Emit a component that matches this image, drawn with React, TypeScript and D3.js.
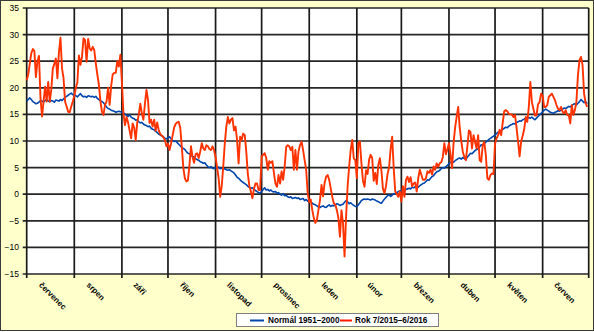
import * as d3 from "d3";

// months (Czech) shown on the x axis
const monthLabels = [
  "červenec", "srpen", "září", "říjen", "listopad", "prosinec",
  "leden", "únor", "březen", "duben", "květen", "červen",
];

const yTicks = [-15, -10, -5, 0, 5, 10, 15, 20, 25, 30, 35];

const seriesNames = ["Normál 1951–2000", "Rok 7/2015–6/2016"];

// daily mean temperature, long-term normal (1 Jul .. 30 Jun)
const normal = [
  // Jul
  17.5, 17.8, 18.1, 17.8, 17.4, 17.2, 17.0, 17.1, 17.3, 17.6, 17.5, 17.3, 17.6, 17.8, 17.5, 17.4,
  17.6, 17.5, 17.3, 17.7, 17.6, 17.5, 17.8, 17.6, 17.9, 18.2, 18.4, 18.6, 18.8, 19.0, 18.7,
  // Aug
  18.7, 18.5, 18.3, 18.6, 18.9, 18.5, 18.3, 18.4, 18.2, 18.5, 18.4, 18.3, 18.4, 18.2, 18.4, 18.0,
  17.8, 17.6, 17.4, 17.2, 16.8, 16.4, 16.1, 16.0, 15.8, 15.7, 15.6, 15.4, 15.5, 15.6, 15.5,
  // Sep
  15.4, 15.3, 15.1, 14.8, 14.6, 14.9, 14.5, 14.3, 14.2, 13.9, 14.0, 13.6, 13.4, 13.5, 13.2,
  13.0, 12.9, 12.7, 12.8, 12.4, 12.2, 12.1, 11.8, 11.6, 11.3, 11.1, 11.0, 10.8, 10.5, 10.4,
  // Oct
  10.6, 10.8, 10.4, 10.1, 9.9, 10.0, 9.7, 9.4, 9.1, 8.8, 8.6, 8.4, 8.0, 7.7, 7.6, 7.3,
  7.1, 7.0, 6.7, 6.5, 6.4, 6.1, 6.0, 5.8, 5.9, 5.5, 5.2, 5.0, 5.2, 4.9, 4.8,
  // Nov
  5.0, 4.9, 5.1, 4.8, 4.9, 4.7, 4.8, 4.6, 4.5, 4.6, 4.4, 4.2, 4.0, 3.6, 3.2,
  3.0, 2.7, 2.4, 2.2, 2.0, 1.8, 1.5, 1.3, 1.1, 1.2, 0.9, 0.7, 0.5, 0.3, 0.2,
  // Dec
  0.5, 0.9, 1.2, 0.8, 0.9, 0.6, 0.8, 0.5, 0.4, 0.5, 0.2, 0.3, 0.0, -0.2, 0.1, -0.3,
  -0.2, -0.5, -0.6, -0.5, -0.8, -0.7, -0.6, -0.8, -0.7, -1.0, -0.9, -0.8, -1.2, -1.0, -1.3,
  // Jan
  -1.5, -1.4, -1.7, -1.9, -2.0, -2.2, -2.4, -2.5, -2.3, -2.2, -2.4, -2.5, -2.2, -2.0, -2.3, -2.1,
  -2.2, -2.0, -1.8, -1.9, -2.1, -2.0, -1.9, -1.5, -1.2, -1.4, -1.8, -1.6, -1.9, -2.1, -2.3,
  // Feb
  -2.3, -2.0, -1.6, -1.2, -1.0, -0.9, -1.0, -0.9, -1.0, -1.1, -0.9, -1.0, -1.1, -1.3, -1.4,
  -1.6, -1.7, -1.3, -0.9, -0.6, -0.3, -0.1, -0.4, -0.2, 0.1, 0.0, 0.3, 0.5, 0.6,
  // Mar
  0.7, 0.6, 0.8, 0.9, 1.0, 1.1, 1.0, 1.3, 1.2, 1.4, 1.5, 1.3, 1.6, 1.8, 2.0, 2.1,
  2.4, 2.7, 2.6, 3.0, 3.3, 3.5, 3.9, 4.2, 4.3, 4.5, 4.8, 5.0, 4.9, 5.2, 5.4,
  // Apr
  5.8, 5.9, 6.2, 6.0, 6.3, 6.5, 6.7, 6.8, 6.6, 6.9, 6.7, 6.5, 7.0, 7.3, 7.7,
  7.6, 7.9, 8.2, 8.4, 8.6, 8.9, 9.3, 9.2, 9.5, 9.8, 10.0, 10.3, 10.5, 10.7, 10.9,
  // May
  11.1, 11.4, 11.7, 11.6, 11.9, 12.2, 12.4, 12.6, 12.5, 12.8, 13.0, 13.1, 13.3, 13.2, 13.5, 13.6,
  13.8, 13.7, 14.0, 14.1, 14.3, 14.2, 14.4, 14.3, 14.5, 14.2, 14.0, 14.3, 14.6, 14.9, 15.2,
  // Jun
  15.5, 15.8, 16.0, 15.8, 15.6, 15.4, 15.3, 15.2, 15.4, 15.5, 15.7, 15.6, 15.8, 16.0, 16.2,
  16.1, 16.3, 16.5, 16.4, 16.7, 16.9, 17.0, 16.8, 17.1, 17.4, 17.8, 17.5, 17.2, 17.4, 17.0,
];

// daily mean temperature, 7/2015 – 6/2016
const year = [
  // Jul
  21.4, 22.5, 24.5, 26.5, 27.3, 26.9, 22.0, 25.0, 26.0, 18.0, 14.6, 17.5, 20.2, 17.4, 21.1, 17.4,
  19.6, 23.6, 24.5, 25.5, 21.8, 26.7, 29.4, 23.6, 21.8, 17.4, 16.5, 15.5, 15.4, 16.5, 17.4,
  // Aug
  18.5, 20.0, 21.0, 26.1, 24.3, 25.8, 29.3, 29.0, 24.9, 29.2, 27.4, 27.0, 27.7, 27.1, 24.6, 22.5,
  20.6, 17.5, 15.5, 14.9, 16.8, 17.4, 20.0, 16.8, 20.3, 22.5, 22.8, 22.8, 25.0, 24.0, 26.2,
  // Sep
  21.0, 15.2, 13.0, 14.5, 13.5, 12.0, 10.5, 13.3, 12.5, 10.2, 13.5, 15.0, 17.0, 15.2, 14.0,
  17.0, 19.6, 17.7, 13.4, 14.0, 12.7, 14.0, 11.9, 13.5, 12.0, 11.3, 11.0, 10.7, 10.2, 9.0,
  // Oct
  9.5, 8.3, 9.5, 11.0, 12.5, 13.2, 13.5, 13.6, 12.5, 9.0, 5.0, 3.0, 2.4, 2.6, 5.5, 9.0,
  7.0, 5.9, 7.5, 7.7, 6.8, 8.0, 9.6, 8.6, 8.3, 9.2, 9.0, 8.5, 8.3, 9.0, 8.3,
  // Nov
  7.0, 5.0, 3.0, -0.5, 1.5, 5.2, 9.5, 12.7, 14.5, 13.3, 14.0, 14.3, 12.0, 12.7, 10.2,
  5.8, 10.8, 10.2, 11.4, 11.1, 8.0, 3.8, 1.6, 0.5, -0.75, 1.0, 2.0, 2.0, 0.8, 0.8,
  // Dec
  7.1, 7.4, 7.7, 6.8, 4.6, 6.2, 5.9, 6.2, 4.0, 2.0, 1.4, 3.6, 2.0, 4.3, 2.7, 5.2,
  8.9, 9.2, 9.0, 8.3, 8.9, 4.6, 8.3, 4.6, 8.0, 9.2, 9.9, 8.3, 6.4, 4.6, 0.2,
  // Jan
  -1.5, -1.0, -3.0, -4.5, -5.4, -4.8, -3.0, -1.1, 1.75, -0.4, 2.1, 3.3, 3.6, 2.7, 1.1, -0.5,
  -1.7, -2.0, -3.0, -4.5, -8.0, -3.0, -5.5, -11.7, -4.2, 1.5, 5.2, 8.3, 10.2, 6.75, 6.4,
  // Feb
  3.0, 9.6, 9.9, 5.8, 2.5, 1.4, 4.5, 3.8, 6.5, 7.4, 6.8, 2.5, 4.0, 1.9, 5.5,
  6.75, 4.5, 1.0, 0.2, 1.5, 3.8, 5.0, 8.5, 10.8, 5.0, 0.5, 0.0, -0.5, 0.5,
  // Mar
  -1.4, 1.5, -0.5, 2.7, 3.3, 2.3, 3.2, 1.5, 2.0, 2.2, 0.5, 3.0, 4.6, 3.7, 2.7, 2.7,
  3.0, 4.3, 4.0, 4.6, 3.7, 5.2, 4.6, 5.8, 5.2, 5.8, 6.0, 7.0, 9.6, 7.5, 8.5,
  // Apr
  9.6, 7.5, 4.9, 9.6, 12.5, 14.5, 16.4, 12.5, 10.0, 8.0, 7.0, 6.4, 9.0, 12.0, 11.7,
  8.6, 11.1, 9.8, 8.6, 11.1, 6.4, 6.1, 9.25, 9.8, 7.4, 3.0, 2.7, 3.6, 3.9, 3.8,
  // May
  9.5, 10.5, 11.1, 12.1, 11.1, 13.4, 15.6, 15.8, 15.6, 15.1, 15.0, 15.0, 14.5, 14.9, 12.5, 9.9,
  7.1, 9.9, 11.0, 12.2, 14.5, 13.6, 16.4, 21.1, 17.3, 16.0, 14.8, 14.8, 16.9, 17.3, 18.9,
  // Jun
  18.5, 16.4, 16.4, 16.75, 18.3, 18.6, 18.9, 18.3, 17.7, 16.75, 16.1, 15.8, 16.4, 15.5, 15.2,
  15.8, 14.9, 14.9, 13.3, 16.75, 14.9, 15.8, 17.4, 22.4, 25.2, 25.8, 24.25, 18.9, 17.1, 16.4,
];

const W = 594;
const H = 332;
const plot = { left: 26.7, right: 588.7, top: 8, bottom: 274 };
const font = "'Liberation Sans', Arial, sans-serif";

export default function App() {
  const start = new Date(Date.UTC(2015, 6, 1));
  const end = new Date(Date.UTC(2016, 6, 1));
  const days = d3.utcDay.range(start, end);

  const x = d3.scaleUtc().domain([start, end]).range([plot.left, plot.right]);
  const y = d3.scaleLinear().domain([-15, 35]).range([plot.bottom, plot.top]);

  const months = d3.utcMonth.range(start, end);
  const boundaries = d3.utcMonth.range(start, d3.utcDay.offset(end, 1));

  const line = d3
    .line<number>()
    .x((_, i) => x(days[i]))
    .y((d) => y(d));

  const fmt = d3.format("");

  return (
    <svg
      width={W}
      height={H}
      style={{ position: "absolute", left: 0, top: 0, display: "block" }}
      fontFamily={font}
    >
      <rect x={0.5} y={0.5} width={W - 1} height={H - 2} fill="#FFFFCC" stroke="#3a3a3a" />
      <rect
        x={plot.left}
        y={plot.top}
        width={plot.right - plot.left}
        height={plot.bottom - plot.top}
        fill="#ffffff"
      />

      {/* horizontal grid + y ticks */}
      {yTicks.map((t) => (
        <g key={t}>
          <line x1={plot.left - 4} x2={plot.right} y1={y(t)} y2={y(t)} stroke="#262626" strokeWidth={1.7} />
          <text x={19} y={y(t)} dy="0.35em" textAnchor="end" fontSize={8.5} fill="#000">
            {fmt(t)}
          </text>
        </g>
      ))}

      {/* vertical month grid */}
      {boundaries.map((m) => (
        <line
          key={m.toISOString()}
          x1={x(m)}
          x2={x(m)}
          y1={plot.top}
          y2={plot.bottom + 4}
          stroke="#1a1a1a"
          strokeWidth={1.7}
        />
      ))}

      {/* month labels */}
      {months.map((m, i) => {
        const mid = (x(m) + x(d3.utcMonth.offset(m, 1))) / 2;
        return (
          <text
            key={monthLabels[i]}
            transform={`translate(${mid - 12},${285.5}) rotate(45)`}
            fontSize={8}
            fontWeight="bold"
            fill="#000"
          >
            {monthLabels[i]}
          </text>
        );
      })}

      <path d={line(normal) ?? ""} fill="none" stroke="#0046AD" strokeWidth={1.6} strokeLinejoin="round" />
      <path d={line(year) ?? ""} fill="none" stroke="#FF3300" strokeWidth={1.9} strokeLinejoin="round" />

      {/* legend */}
      <g>
        <rect x={236.5} y={313.5} width={202} height={13} fill="#ffffff" stroke="#7f7f7f" />
        <line x1={250} x2={264} y1={320.5} y2={320.5} stroke="#0046AD" strokeWidth={2} />
        <text x={268} y={320.5} dy="0.35em" fontSize={8.2} fontWeight="bold">
          {seriesNames[0]}
        </text>
        <line x1={340} x2={352} y1={320.5} y2={320.5} stroke="#FF1a00" strokeWidth={2} />
        <text x={355} y={320.5} dy="0.35em" fontSize={8.2} fontWeight="bold">
          {seriesNames[1]}
        </text>
      </g>
    </svg>
  );
}
